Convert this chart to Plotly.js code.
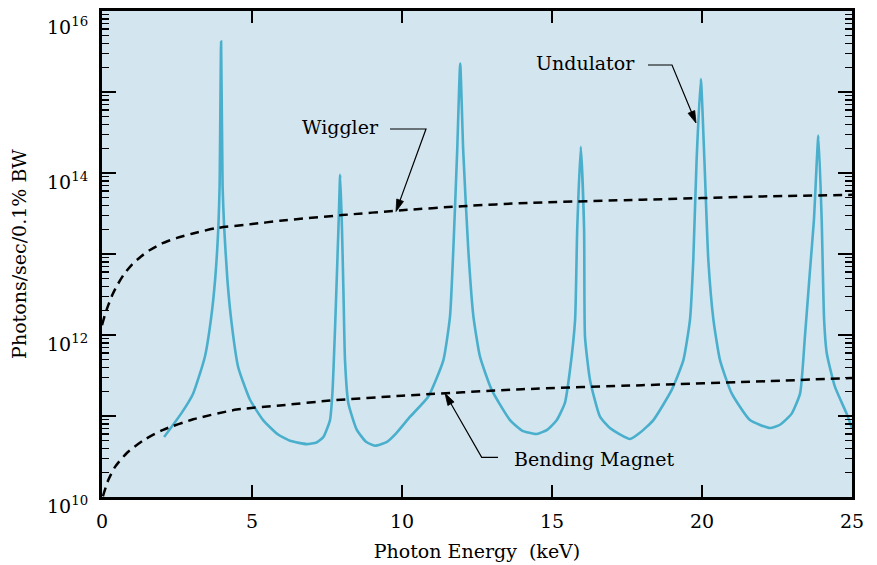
<!DOCTYPE html>
<html>
<head>
<meta charset="utf-8">
<script src="https://cdn.plot.ly/plotly-3.0.1.min.js"></script>
<style>
  html, body { margin: 0; padding: 0; background: #ffffff; }
  #chart { width: 877px; height: 565px; }
</style>
</head>
<body>
<div id="chart"></div>
<script>
// ---- Data (Photon energy in keV, photons/sec/0.1% BW) ----
const undulatorX = [2.07, 2.66, 3.04, 3.43, 3.63, 3.77, 3.88, 3.92, 3.97, 4.02, 4.07, 4.18, 4.32, 4.54, 4.93, 5.37, 5.87, 6.3, 6.82, 7.15, 7.38, 7.6, 7.68, 7.77, 7.88, 7.94, 8.0, 8.05, 8.1, 8.21, 8.49, 8.8, 9.1, 9.5, 9.82, 10.27, 10.88, 11.38, 11.6, 11.71, 11.84, 11.94, 12.04, 12.21, 12.38, 12.6, 12.99, 13.6, 14.0, 14.49, 14.85, 15.16, 15.43, 15.6, 15.77, 15.84, 15.96, 16.07, 16.1, 16.27, 16.6, 16.93, 17.6, 17.93, 18.38, 18.99, 19.38, 19.6, 19.71, 19.82, 19.96, 20.08, 20.21, 20.38, 20.6, 20.99, 21.6, 22.27, 22.6, 22.99, 23.27, 23.43, 23.6, 23.73, 23.88, 23.99, 24.07, 24.16, 24.43, 24.82, 25.0];
const undulatorY = [5.5e10, 1.1e11, 1.9e11, 5.4e11, 1.55e12, 4.8e12, 2.2e13, 6.8e13, 4.2e15, 6.8e13, 2.2e13, 4.8e12, 1.4e12, 4.0e11, 1.6e11, 8.9e10, 5.9e10, 4.9e10, 4.5e10, 4.7e10, 5.5e10, 8.9e10, 1.9e11, 1.26e12, 2.0e13, 9.5e13, 2.0e13, 3.2e12, 4.9e11, 1.45e11, 6.8e10, 4.8e10, 4.3e10, 4.8e10, 6.2e10, 9.8e10, 1.74e11, 4.9e11, 1.7e12, 1.12e13, 1.9e14, 2.24e15, 1.9e14, 1.12e13, 1.7e12, 5.4e11, 2.1e11, 8.9e10, 6.6e10, 6.0e10, 6.8e10, 8.9e10, 1.45e11, 3.7e11, 1.55e12, 2.0e13, 2.1e14, 2.0e13, 9.5e11, 2.75e11, 9.8e10, 7.1e10, 5.2e10, 6.2e10, 8.9e10, 2.1e11, 4.9e11, 1.55e12, 8.5e12, 1.45e14, 1.45e15, 1.45e14, 8.5e12, 1.55e12, 4.9e11, 1.9e11, 8.9e10, 7.1e10, 7.8e10, 1.07e11, 1.9e11, 9.5e11, 6.3e12, 2.6e13, 2.9e14, 2.6e13, 1.55e12, 5.9e11, 2.3e11, 1.07e11, 7.1e10];

const wigglerX = [0, 0.1, 0.2, 0.35, 0.5, 0.75, 1, 1.3, 1.6, 2, 2.5, 3, 3.82, 5, 5.93, 8, 10, 12, 14.2, 18, 22, 25];
const wigglerY = [1.32e12, 1.78e12, 2.29e12, 3.16e12, 4.07e12, 5.75e12, 7.41e12, 9.33e12, 1.12e13, 1.35e13, 1.58e13, 1.78e13, 2.09e13, 2.34e13, 2.57e13, 3.02e13, 3.47e13, 3.89e13, 4.27e13, 4.68e13, 5.13e13, 5.37e13];

const bendingX = [0.03, 0.1, 0.21, 0.43, 0.82, 1.38, 2.04, 3.04, 4.49, 5.93, 7.6, 10, 14, 18, 22.2, 25];
const bendingY = [1.02e10, 1.23e10, 1.62e10, 2.34e10, 3.47e10, 5.0e10, 6.76e10, 9.1e10, 1.2e11, 1.35e11, 1.55e11, 1.78e11, 2.14e11, 2.4e11, 2.69e11, 2.95e11];

const xTickVals = [0, 5, 10, 15, 20, 25];
const xTickText = ['0', '5', '10', '15', '20', '25'];
const yTickVals = [1e10, 1e11, 1e12, 1e13, 1e14, 1e15, 1e16];
const yLabelVals = [1e10, 1e12, 1e14, 1e16];
const yLabelText = ['10<sup>10</sup>', '10<sup>12</sup>', '10<sup>14</sup>', '10<sup>16</sup>'];
const yMinorMantissas = [2, 3, 4, 5, 6, 7, 8, 9];

const xTitle = 'Photon Energy  (keV)';
const yTitle = 'Photons/sec/0.1% BW';
const labelWiggler = 'Wiggler';
const labelUndulator = 'Undulator';
const labelBending = 'Bending Magnet';

// ---- Build ----
const yMinorVals = [];
for (let d = 10; d < 16; d++) {
  yMinorMantissas.forEach(m => yMinorVals.push(m * Math.pow(10, d)));
}

const FONT = 'DejaVu Serif, Liberation Serif, serif';
const FS = 19;
const BLUE = '#4aafcc';

const M = { l: 102, r: 25, t: 11, b: 68 };
const W = 877, H = 565;
const PW = W - M.l - M.r, PH = H - M.t - M.b;
const px2paper = (x, y) => [(x - M.l) / PW, (H - M.b - y) / PH];

const traces = [
  { x: undulatorX, y: undulatorY, mode: 'lines', name: labelUndulator,
    line: { color: BLUE, width: 2.6, shape: 'spline', smoothing: 0.5 }, hoverinfo: 'skip' },
  { x: wigglerX, y: wigglerY, mode: 'lines', name: labelWiggler,
    line: { color: '#000000', width: 2.5, dash: '9px,6px', shape: 'spline', smoothing: 0.6 }, hoverinfo: 'skip' },
  { x: bendingX, y: bendingY, mode: 'lines', name: labelBending,
    line: { color: '#000000', width: 2.5, dash: '9px,6px', shape: 'spline', smoothing: 0.6 }, hoverinfo: 'skip' }
];

// Leader lines (label -> elbow -> arrow tip), in screen pixels of the 877x565 page
const leaders = [
  { start: [390, 129], elbow: [426, 129], tip: [396, 211.5] },
  { start: [648, 65], elbow: [672, 65], tip: [696, 123] },
  { start: [498, 457.3], elbow: [481.7, 457.3], tip: [445, 393.3] }
];

const shapes = [];
leaders.forEach(L => {
  const dx = L.tip[0] - L.elbow[0], dy = L.tip[1] - L.elbow[1];
  const len = Math.hypot(dx, dy);
  const ux = dx / len, uy = dy / len;
  const headLen = 12, headHalf = 3.6;
  const bx = L.tip[0] - ux * headLen, by = L.tip[1] - uy * headLen;
  const c1 = [bx - uy * headHalf, by + ux * headHalf];
  const c2 = [bx + uy * headHalf, by - ux * headHalf];
  const p = (pt) => px2paper(pt[0], pt[1]).join(',');
  shapes.push({ type: 'path', xref: 'paper', yref: 'paper',
    path: 'M' + p(L.start) + ' L' + p(L.elbow) + ' L' + p([bx + ux * 2, by + uy * 2]),
    line: { color: '#000000', width: 1.2 } });
  shapes.push({ type: 'path', xref: 'paper', yref: 'paper',
    path: 'M' + p(L.tip) + ' L' + p(c1) + ' L' + p(c2) + ' Z',
    fillcolor: '#000000', line: { color: '#000000', width: 0.8 } });
});

// y tick labels sit a little below their ticks in the reference
const yLabelShift = [-8, -8, -8, -15];
const yLabelAnnotations = yLabelVals.map((v, i) => ({
  text: yLabelText[i], xref: 'paper', yref: 'y', x: -0.016, y: Math.log10(v),
  xanchor: 'right', yanchor: 'middle', yshift: yLabelShift[i], showarrow: false,
  font: { family: FONT, size: FS }
}));

const layout = {
  width: W, height: H,
  margin: M,
  paper_bgcolor: '#ffffff',
  plot_bgcolor: '#d3e6ef',
  showlegend: false,
  font: { family: FONT, color: '#000000', size: FS },
  xaxis: {
    range: [0, 25], tickmode: 'array', tickvals: xTickVals, ticktext: xTickText,
    ticks: 'inside', ticklen: 12, tickwidth: 1.6, tickcolor: '#000000',
    showline: true, linewidth: 2.6, linecolor: '#000000', mirror: 'ticks',
    showgrid: false, zeroline: false, ticklabelstandoff: 6,
    tickfont: { family: FONT, size: FS },
    title: { text: xTitle, font: { family: FONT, size: FS }, standoff: 14 }
  },
  yaxis: {
    type: 'log', range: [10, 16], tickmode: 'array', tickvals: yTickVals,
    showticklabels: false,
    ticks: 'inside', ticklen: 14, tickwidth: 1.6, tickcolor: '#000000',
    showline: true, linewidth: 2.6, linecolor: '#000000', mirror: 'ticks',
    showgrid: false, zeroline: false,
    minor: { tickmode: 'array', tickvals: yMinorVals, ticks: 'inside', ticklen: 7, tickwidth: 1.4, tickcolor: '#000000', showgrid: false },
    title: { text: yTitle, font: { family: FONT, size: FS }, standoff: 68 }
  },
  shapes: shapes,
  annotations: yLabelAnnotations.concat([
    { text: labelWiggler, xref: 'paper', yref: 'paper', x: 0.372, y: 0.761, xanchor: 'right', yanchor: 'middle', showarrow: false, font: { family: FONT, size: FS } },
    { text: labelUndulator, xref: 'paper', yref: 'paper', x: 0.7133, y: 0.893, xanchor: 'right', yanchor: 'middle', showarrow: false, font: { family: FONT, size: FS } },
    { text: labelBending, xref: 'paper', yref: 'paper', x: 0.5467, y: 0.0782, xanchor: 'left', yanchor: 'middle', showarrow: false, font: { family: FONT, size: FS } }
  ])
};

Plotly.newPlot('chart', traces, layout, { staticPlot: true, displayModeBar: false });
</script>
</body>
</html>
